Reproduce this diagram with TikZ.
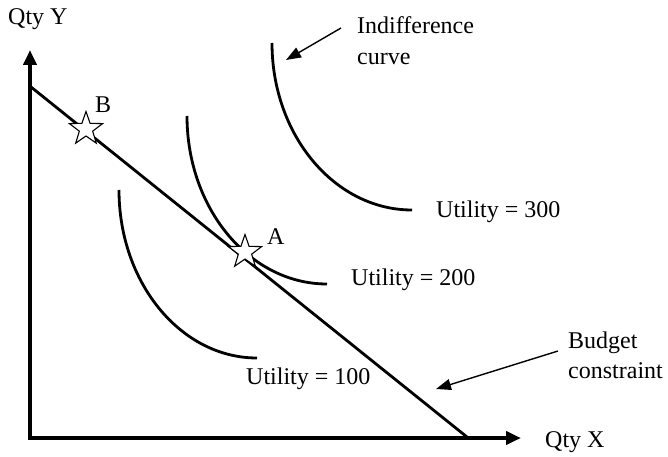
\documentclass[tikz,border=0pt]{standalone}
\usepackage{fontspec}
\setmainfont{Liberation Serif}
\usetikzlibrary{arrows.meta,shapes.geometric}
\begin{document}
\begin{tikzpicture}[x=1pt,y=1pt,
  lbl/.style={anchor=base west,inner sep=0pt,font=\fontsize{24}{29}\selectfont},
  axisline/.style={line width=4.5pt,{Triangle[length=15pt,width=13pt]}-{Triangle[length=15pt,width=13pt]}},
  curveline/.style={line width=2.8pt},
  budgetline/.style={line width=2.8pt},
  pointer/.style={line width=1.4pt,-{Triangle[length=15pt,width=11pt]}},
  starmark/.style={star,star points=5,star point ratio=2.5,minimum size=35pt,inner sep=0pt,draw,line width=1.1pt,fill=white}]
\useasboundingbox (0,0) rectangle (668,456);
% axes
\coordinate (O) at (30,18);
\coordinate (ytip) at (30,406);
\coordinate (xtip) at (521,18);
\draw[axisline] (ytip) -- (O) -- (xtip);
% indifference curves
\draw[curveline] (119,266) arc[start angle=180,end angle=270,x radius=138,y radius=168];
\draw[curveline] (187,340) arc[start angle=180,end angle=270,x radius=140,y radius=168];
\draw[curveline] (272,413) arc[start angle=180,end angle=270,x radius=140,y radius=167];
% budget line
\coordinate (bstart) at (31,369);
\coordinate (bend) at (467,19);
\draw[budgetline] (bstart) -- (bend);
% stars
\node[starmark] (starB) at (86,327) {};
\node[starmark] (starA) at (245,204) {};
% labels
\node[lbl] (qtyY) at (8,431) {Qty Y};
\node[lbl] (qtyX) at (545,9) {Qty X};
\node[lbl] (labB) at (95,344) {B};
\node[lbl] (labA) at (267,212) {A};
\node[lbl] (u300) at (436,239) {Utility = 300};
\node[lbl] (u200) at (351,171) {Utility = 200};
\node[lbl] (u100) at (246,72) {Utility = 100};
\node[lbl] (ind1) at (357,422) {Indifference};
\node[lbl] (ind2) at (357,391) {curve};
\node[lbl] (bud1) at (568,108) {Budget};
\node[lbl] (bud2) at (568,78) {constraint};
% pointers
\coordinate (indFrom) at (341,428);
\coordinate (indTo) at (286,396);
\coordinate (budFrom) at (558,105);
\coordinate (budTo) at (436,67);
\draw[pointer] (indFrom) -- (indTo);
\draw[pointer] (budFrom) -- (budTo);
\end{tikzpicture}
\end{document}
